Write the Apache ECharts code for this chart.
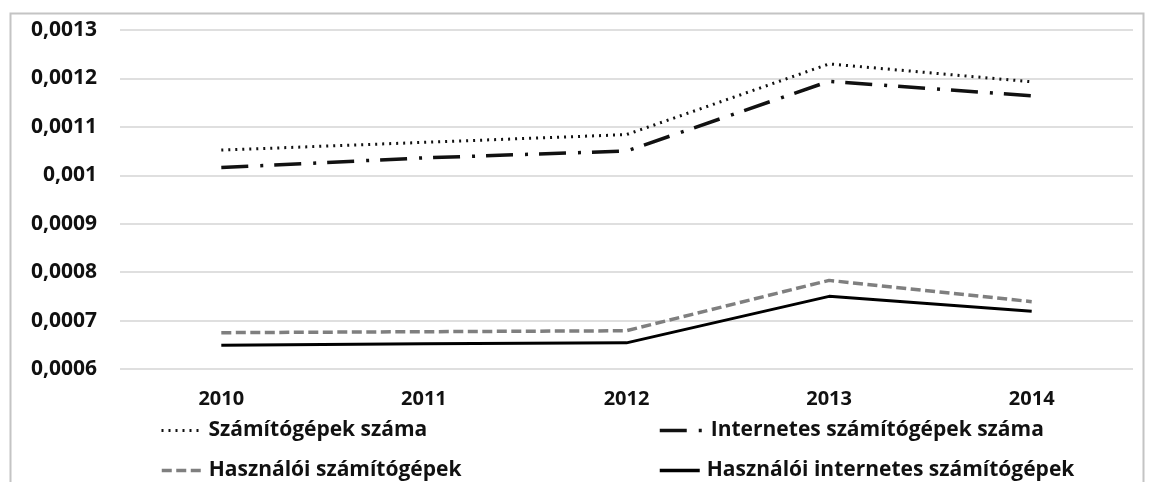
<!DOCTYPE html>
<html><head><meta charset="utf-8">
<script src="https://cdn.jsdelivr.net/npm/echarts@6/dist/echarts.min.js"></script>
<style>html,body{margin:0;padding:0;background:#fff}#c{width:1153px;height:482px}</style>
</head><body><div id="c"></div>
<script>
const categories = ['2010', '2011', '2012', '2013', '2014'];
const seriesNames = ['Számítógépek száma', 'Internetes számítógépek száma', 'Használói számítógépek', 'Használói internetes számítógépek'];
const szamitogepek = [0.001052, 0.001068, 0.001084, 0.00123, 0.001193];
const internetes = [0.001016, 0.001036, 0.00105, 0.001194, 0.001164];
const hasznaloi = [0.000675, 0.000677, 0.000679, 0.000783, 0.000739];
const hasznaloiInternetes = [0.000649, 0.000652, 0.000654, 0.00075, 0.000719];
const yMin = 0.0006, yMax = 0.0013, yStep = 0.0001;

const FONT = '"Open Sans", "DejaVu Sans", sans-serif';
const chart = echarts.init(document.getElementById('c'), null, {renderer: 'canvas'});
const fmt = v => parseFloat(v.toFixed(4)).toString().replace('.', ',');

const legendText = {fontFamily: FONT, fontWeight: 'bold', fontSize: 21, color: '#111', padding: [0, 0, 0, 2]};
function legendItem(name, left, top, w, lw) {
  return {
    data: [name], orient: 'vertical', left: left, top: top, padding: 0,
    itemWidth: w, itemHeight: 20, textStyle: legendText,
    itemStyle: {opacity: 0}, lineStyle: {width: lw}, selectedMode: false
  };
}
chart.setOption({
  animation: false,
  backgroundColor: '#fff',
  graphic: [{
    type: 'rect', left: 8, top: 11, silent: true,
    shape: {width: 1133, height: 480},
    style: {fill: 'none', stroke: '#c4c4c4', lineWidth: 2}
  }],
  grid: {left: 120, right: 20, top: 30, bottom: 113, containLabel: false},
  xAxis: {
    type: 'category', data: categories, boundaryGap: true,
    axisLine: {show: false}, axisTick: {show: false},
    axisLabel: {fontFamily: FONT, fontWeight: 'bold', fontSize: 20, color: '#111', margin: 20}
  },
  yAxis: {
    type: 'value', min: yMin, max: yMax, interval: yStep,
    axisLine: {show: false}, axisTick: {show: false},
    splitLine: {lineStyle: {color: '#d4d4d4', width: 1.5}},
    axisLabel: {fontFamily: FONT, fontWeight: 'bold', fontSize: 21, color: '#111', margin: 23, formatter: fmt}
  },
  legend: [
    legendItem(seriesNames[0], 160, 420, 40, 3),
    legendItem(seriesNames[2], 160, 460, 40, 3.5),
    legendItem(seriesNames[1], 658, 420, 44, 3.5),
    legendItem(seriesNames[3], 658, 460, 40, 3.5)
  ],
  series: [{
    name: seriesNames[0], type: 'line', data: szamitogepek, symbol: 'none', silent: true,
    lineStyle: {color: '#111', width: 3, type: [2, 5], cap: 'butt'}
  }, {
    name: seriesNames[1], type: 'line', data: internetes, symbol: 'none', silent: true,
    lineStyle: {color: '#111', width: 3.5, type: [27, 12, 3, 11], cap: 'butt'}
  }, {
    name: seriesNames[2], type: 'line', data: hasznaloi, symbol: 'none', silent: true,
    lineStyle: {color: '#7f7f7f', width: 3.5, type: [10, 4.5], cap: 'butt'}
  }, {
    name: seriesNames[3], type: 'line', data: hasznaloiInternetes, symbol: 'none', silent: true,
    lineStyle: {color: '#000', width: 3, type: 'solid'}
  }]
});
</script></body></html>
